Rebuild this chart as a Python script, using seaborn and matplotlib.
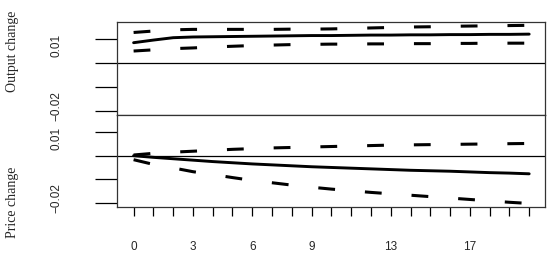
import numpy as np
import pandas as pd
import matplotlib
matplotlib.use("Agg")
import matplotlib.pyplot as plt
import matplotlib.transforms as mtransforms
import seaborn as sns

# impulse responses
lags = list(range(21))
output_irf = [0.0086, 0.0097, 0.0107, 0.0110, 0.0111, 0.0112, 0.0113, 0.0114, 0.0115, 0.0116, 0.0116,
              0.0117, 0.0118, 0.0118, 0.0119, 0.0119, 0.0120, 0.0120, 0.0121, 0.0121, 0.0122]
output_upper = [0.0129, 0.0135, 0.0140, 0.0142, 0.0142, 0.0142, 0.0142, 0.0142, 0.0143, 0.0143, 0.0144,
                0.0146, 0.0148, 0.0150, 0.0152, 0.0153, 0.0155, 0.0156, 0.0157, 0.0158, 0.0159]
output_lower = [0.0051, 0.0056, 0.0061, 0.0064, 0.0068, 0.0071, 0.0074, 0.0076, 0.0078, 0.0079, 0.0080,
                 0.0080, 0.0081, 0.0081, 0.0082, 0.0082, 0.0083, 0.0083, 0.0084, 0.0084, 0.0084]
price_irf = [0.0, -0.0007, -0.0013, -0.0019, -0.0025, -0.0030, -0.0035, -0.0039, -0.0043, -0.0047, -0.0050,
             -0.0053, -0.0056, -0.0059, -0.0062, -0.0064, -0.0066, -0.0069, -0.0072, -0.0074, -0.0077]
price_upper = [0.0003, 0.0010, 0.0015, 0.0019, 0.0023, 0.0027, 0.0030, 0.0033, 0.0035, 0.0037, 0.0039,
               0.0041, 0.0043, 0.0045, 0.0046, 0.0047, 0.0048, 0.0049, 0.0050, 0.0051, 0.0052]
price_lower = [-0.0017, -0.0037, -0.0052, -0.0068, -0.0080, -0.0093, -0.0105, -0.0115, -0.0125, -0.0134, -0.0142,
               -0.0149, -0.0156, -0.0162, -0.0168, -0.0174, -0.0180, -0.0186, -0.0192, -0.0198, -0.0203]

y_ticks = [-0.02, -0.01, 0.0, 0.01]
y_ticklabels = ["\u22120.02", "", "", "0.01"]
x_ticklabels = ["0", "", "", "3", "", "", "6", "", "", "9", "", "", "", "13", "", "", "", "17", "", "", ""]

sns.set_style("white")
plt.rcParams["font.family"] = ["Liberation Sans", "DejaVu Sans"]

fig = plt.figure(figsize=(5.5, 2.57), dpi=100)
ax_top = fig.add_axes([0.2127, 0.5525, 0.7782, 0.3619])
ax_bot = fig.add_axes([0.2127, 0.1946, 0.7782, 0.3580])

dash = (0, (5.5, 9.8))
panels = [
    (ax_top, output_irf, output_upper, output_lower),
    (ax_bot, price_irf, price_upper, price_lower),
]
for ax, mid, up, lo in panels:
    df = pd.DataFrame({"lag": lags, "mid": mid, "up": up, "lo": lo})
    ax.axhline(0, color="black", linewidth=0.9, zorder=1)
    sns.lineplot(data=df, x="lag", y="mid", ax=ax, color="black", linewidth=2.1)
    sns.lineplot(data=df, x="lag", y="up", ax=ax, color="black", linewidth=2.2, linestyle=dash)
    sns.lineplot(data=df, x="lag", y="lo", ax=ax, color="black", linewidth=2.2, linestyle=dash)
    ax.set_xlim(-0.84, 20.8)
    ax.set_ylim(-0.0218, 0.0173)
    ax.set_xlabel("")
    ax.set_ylabel("")
    ax.set_yticks(y_ticks)
    ax.set_yticklabels(y_ticklabels, rotation=90, va="center", fontsize=8.5)
    ax.tick_params(axis="y", left=True, direction="out", length=16, width=0.9, pad=23, color="black")
    # nudge the end labels inward so they don't collide between panels
    for lab in ax.get_yticklabels():
        txt = lab.get_text()
        if txt == "0.01":
            shift = -6 / 100
        elif txt.endswith("0.02"):
            shift = 5 / 100
        else:
            continue
        lab.set_transform(lab.get_transform() + mtransforms.ScaledTranslation(0, shift, fig.dpi_scale_trans))
    for s in ax.spines.values():
        s.set_color("#333333")
        s.set_linewidth(0.9)

ax_top.set_xticks([])
ax_bot.set_xticks(lags)
ax_bot.set_xticklabels(x_ticklabels, fontsize=8.5)
ax_bot.tick_params(axis="x", bottom=True, direction="out", length=6.5, width=0.9, pad=18, color="black")

fig.text(0.022, 1 - 51 / 257, "Output change", rotation=90, ha="center", va="center",
         fontsize=10, family=["Liberation Serif", "DejaVu Serif"])
fig.text(0.022, 1 - 202 / 257, "Price change", rotation=90, ha="center", va="center",
         fontsize=10, family=["Liberation Serif", "DejaVu Serif"])

fig.savefig("out.png", dpi=100)
